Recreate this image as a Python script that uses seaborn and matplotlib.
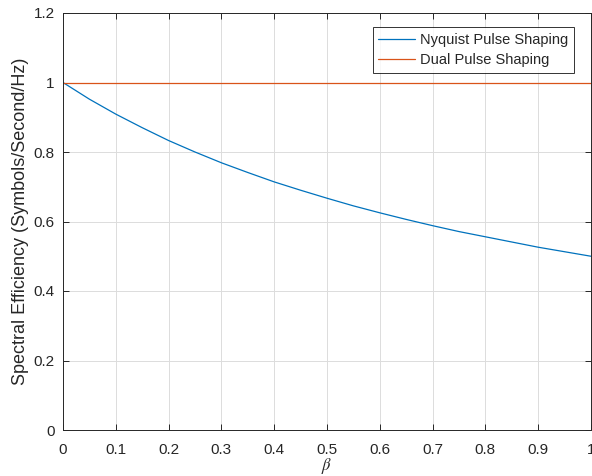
import numpy as np
import pandas as pd
import matplotlib
matplotlib.use("Agg")
import matplotlib.pyplot as plt
import seaborn as sns

# roll-off factor samples and spectral efficiency of each scheme
beta = [0.00, 0.05, 0.10, 0.15, 0.20, 0.25, 0.30, 0.35, 0.40, 0.45, 0.50,
        0.55, 0.60, 0.65, 0.70, 0.75, 0.80, 0.85, 0.90, 0.95, 1.00]
nyquist = [1.000, 0.952, 0.909, 0.870, 0.833, 0.800, 0.769, 0.741, 0.714, 0.690, 0.667,
           0.645, 0.625, 0.606, 0.588, 0.571, 0.556, 0.541, 0.526, 0.513, 0.500]
dual = [1.0] * len(beta)

x_ticks = [0, 0.1, 0.2, 0.3, 0.4, 0.5, 0.6, 0.7, 0.8, 0.9, 1]
x_tick_labels = ["0", "0.1", "0.2", "0.3", "0.4", "0.5", "0.6", "0.7", "0.8", "0.9", "1"]
y_ticks = [0, 0.2, 0.4, 0.6, 0.8, 1.0, 1.2]
y_tick_labels = ["0", "0.2", "0.4", "0.6", "0.8", "1", "1.2"]

sns.set_theme(style="white")
plt.rcParams["font.family"] = ["Liberation Sans", "DejaVu Sans"]
plt.rcParams["mathtext.fontset"] = "stix"

df = pd.DataFrame({"beta": beta + beta,
                   "eff": nyquist + dual,
                   "scheme": ["Nyquist Pulse Shaping"] * len(beta) + ["Dual Pulse Shaping"] * len(beta)})

fig = plt.figure(figsize=(5.92, 4.76), dpi=100)
ax = fig.add_axes([63 / 592, 46 / 476, 528 / 592, 417 / 476])

sns.lineplot(data=df, x="beta", y="eff", hue="scheme",
             palette=["#0072BD", "#D95319"], linewidth=0.9, ax=ax)

ax.set_xlim(0, 1)
ax.set_ylim(0, 1.2)
ax.set_xticks(x_ticks)
ax.set_xticklabels(x_tick_labels)
ax.set_yticks(y_ticks)
ax.set_yticklabels(y_tick_labels)
ax.grid(True, color="#dcdcdc", linewidth=0.7)
ax.tick_params(direction="in", length=4, width=0.7, colors="#262626",
               labelsize=11, top=True, right=True, bottom=True, left=True)
ax.tick_params(axis="x", pad=9)
ax.tick_params(axis="y", pad=6)
for side in ax.spines.values():
    side.set_color("#262626")
    side.set_linewidth(0.7)

ax.set_xlabel(r"$\beta$", fontsize=12, color="#262626", labelpad=0)
ax.set_ylabel("Spectral Efficiency (Symbols/Second/Hz)", fontsize=13, color="#262626", labelpad=3)

leg = ax.legend(loc="upper right", bbox_to_anchor=(574 / 592, 449 / 476),
                bbox_transform=fig.transFigure, fontsize=10.5, frameon=True,
                fancybox=False, edgecolor="black", handlelength=2.5,
                handletextpad=0.35, borderpad=0.4, labelspacing=0.4,
                borderaxespad=0)
leg.get_frame().set_linewidth(0.7)

fig.savefig("out.png", dpi=100)
